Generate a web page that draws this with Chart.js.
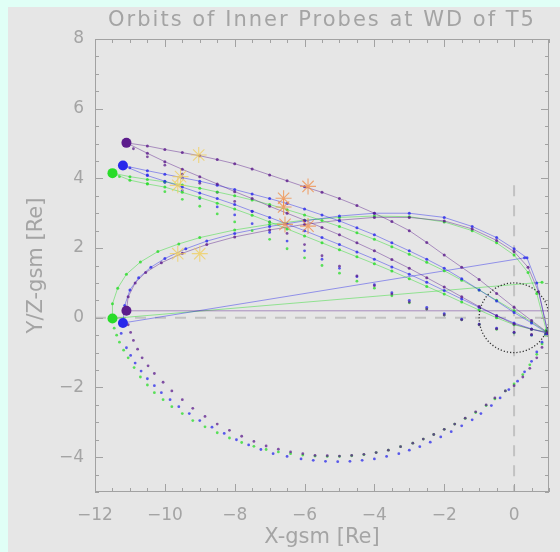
<!DOCTYPE html>
<html>
<head>
<meta charset="utf-8">
<script src="https://cdn.jsdelivr.net/npm/chart.js@4.4.0/dist/chart.umd.min.js"></script>
<style>
  html, body { margin: 0; padding: 0; background: #e0fff6; }
  canvas { display: block; }
</style>
</head>
<body>
<canvas id="orbitChart" width="560" height="552"></canvas>
<script>
// axis ranges and labels
var xRange = [-12, 1];
var yRange = [-5, 8];
var titleText = 'Orbits of Inner Probes at WD of T5';
var xTitle = 'X-gsm [Re]';
var yTitle = 'Y/Z-gsm [Re]';

// Y vs X legs (drawn with a line)
var purpleLegA = [[-11.1,5.02],[-10.5,4.93],[-10,4.83],[-9.5,4.74],[-9,4.65],[-8.5,4.54],[-8,4.42],[-7.5,4.27],[-7,4.1],[-6.5,3.93],[-6,3.76],[-5.5,3.6],[-5,3.42],[-4.5,3.22],[-4,3.0],[-3.5,2.76],[-3,2.5],[-2.5,2.16],[-2,1.8],[-1.5,1.45],[-1,1.1],[-0.5,0.7],[0,0.3],[0.5,-0.08],[0.97,-0.43]];
var purpleLegB = [[-11.1,5.02],[-10.5,4.72],[-10,4.48],[-9.5,4.26],[-9,4.05],[-8.5,3.84],[-8,3.62],[-7.5,3.42],[-7,3.2],[-6.5,3.0],[-6,2.8],[-5.5,2.59],[-5,2.38],[-4.5,2.15],[-4,1.92],[-3.5,1.67],[-3,1.42],[-2.5,1.15],[-2,0.88],[-1.5,0.6],[-1,0.32],[-0.5,0.06],[0,-0.18],[0.5,-0.33],[0.97,-0.43]];
var blueLegA = [[-11.2,4.37],[-10.5,4.22],[-10,4.12],[-9.5,4.02],[-9,3.92],[-8.5,3.8],[-8,3.68],[-7.5,3.55],[-7,3.42],[-6.5,3.28],[-6,3.12],[-5.5,2.95],[-5,2.78],[-4.5,2.58],[-4,2.38],[-3.5,2.15],[-3,1.92],[-2.5,1.68],[-2,1.42],[-1.5,1.12],[-1,0.8],[-0.5,0.48],[0,0.15],[0.5,-0.15],[0.97,-0.45]];
var blueLegB = [[-11.2,4.37],[-10.5,4.08],[-10,3.92],[-9.5,3.75],[-9,3.58],[-8.5,3.42],[-8,3.25],[-7.5,3.06],[-7,2.88],[-6.5,2.69],[-6,2.5],[-5.5,2.3],[-5,2.1],[-4.5,1.89],[-4,1.68],[-3.5,1.46],[-3,1.25],[-2.5,1.02],[-2,0.78],[-1.5,0.54],[-1,0.3],[-0.5,0.06],[0,-0.15],[0.5,-0.32],[0.97,-0.45]];
var greenLegA = [[-11.5,4.15],[-11,4.05],[-10.5,3.97],[-10,3.9],[-9.5,3.81],[-9,3.72],[-8.5,3.61],[-8,3.5],[-7.5,3.38],[-7,3.25],[-6.5,3.1],[-6,2.95],[-5.5,2.79],[-5,2.62],[-4.5,2.44],[-4,2.25],[-3.5,2.04],[-3,1.82],[-2.5,1.59],[-2,1.35],[-1.5,1.08],[-1,0.8],[-0.5,0.5],[0,0.2],[0.5,-0.12],[0.92,-0.4]];
var greenLegB = [[-11.5,4.15],[-11,3.95],[-10.5,3.84],[-10,3.75],[-9.5,3.6],[-9,3.45],[-8.5,3.29],[-8,3.12],[-7.5,2.94],[-7,2.75],[-6.5,2.55],[-6,2.35],[-5.5,2.15],[-5,1.95],[-4.5,1.75],[-4,1.55],[-3.5,1.34],[-3,1.12],[-2.5,0.9],[-2,0.68],[-1.5,0.45],[-1,0.22],[-0.5,0.0],[0,-0.2],[0.5,-0.33],[0.92,-0.4]];

// Y vs X legs (dots only)
var purpleLegC = [[-10.9,4.85],[-10.5,4.62],[-10,4.38],[-9.5,4.12],[-9,3.86],[-8.5,3.6],[-8,3.34],[-7.5,3.05],[-7,2.75],[-6.5,2.42],[-6,2.1],[-5.5,1.78],[-5,1.48],[-4.5,1.2],[-4,0.92],[-3.5,0.68],[-3,0.45],[-2.5,0.25],[-2,0.08],[-1.5,-0.06],[-1,-0.2],[-0.5,-0.32],[0,-0.42],[0.5,-0.48]];
var blueLegC = [[-11,4.3],[-10.5,4.1],[-10,3.88],[-9.5,3.65],[-9,3.42],[-8.5,3.18],[-8,2.95],[-7.5,2.7],[-7,2.45],[-6.5,2.2],[-6,1.92],[-5.5,1.68],[-5,1.42],[-4.5,1.18],[-4,0.95],[-3.5,0.72],[-3,0.5],[-2.5,0.3],[-2,0.12],[-1.5,-0.04],[-1,-0.18],[-0.5,-0.3],[0,-0.42],[0.5,-0.5],[0.9,-0.48]];
var greenLegC = [[-11.3,4.05],[-10.5,3.85],[-10,3.62],[-9.5,3.4],[-9,3.2],[-8.5,2.98],[-8,2.75],[-7.5,2.5],[-7,2.25],[-6.5,1.98],[-6,1.72],[-5.5,1.5],[-5,1.28],[-4.5,1.05],[-4,0.85],[-3.5,0.63],[-3,0.43],[-2.5,0.25],[-2,0.08],[-1.5,-0.06],[-1,-0.2],[-0.5,-0.33],[0,-0.44],[0.5,-0.5],[0.9,-0.5]];

// Z vs X, upper half (line) and lower half (dots)
var purpleZUp = [[-11.1,0.2],[-11.05,0.6],[-10.85,1.0],[-10.55,1.3],[-10.1,1.58],[-9.5,1.85],[-8.8,2.1],[-8,2.32],[-7,2.52],[-6,2.68],[-5,2.8],[-4,2.88],[-3,2.88],[-2,2.78],[-1.2,2.55],[-0.5,2.22],[0,1.9],[0.4,1.45],[0.7,0.75],[0.97,-0.45]];
var blueZUp = [[-11.2,-0.15],[-11.15,0.35],[-11,0.8],[-10.75,1.15],[-10.4,1.45],[-10,1.7],[-9.4,1.98],[-8.8,2.2],[-8,2.42],[-7,2.62],[-6,2.78],[-5,2.92],[-4,3.0],[-3,3.0],[-2,2.88],[-1.2,2.62],[-0.5,2.3],[0,1.98],[0.37,1.72],[0.65,1.0],[0.97,-0.43]];
var greenZUp = [[-11.5,-0.02],[-11.5,0.4],[-11.35,0.85],[-11.1,1.25],[-10.7,1.6],[-10.2,1.9],[-9.6,2.12],[-9,2.3],[-8,2.52],[-7,2.68],[-6,2.8],[-5,2.88],[-4,2.92],[-3,2.9],[-2,2.75],[-1.2,2.5],[-0.5,2.15],[0,1.8],[0.4,1.3],[0.65,0.7],[0.92,-0.35]];
var purpleZLow = [[-11.05,-0.2],[-10.98,-0.42],[-10.9,-0.65],[-10.78,-0.9],[-10.65,-1.15],[-10.48,-1.38],[-10.3,-1.6],[-10.05,-1.85],[-9.8,-2.1],[-9.5,-2.35],[-9.2,-2.6],[-8.85,-2.83],[-8.5,-3.05],[-8.15,-3.23],[-7.8,-3.4],[-7.45,-3.55],[-7.1,-3.68],[-6.75,-3.77],[-6.4,-3.85],[-6.05,-3.9],[-5.7,-3.95],[-5.35,-3.96],[-5,-3.97],[-4.65,-3.95],[-4.3,-3.92],[-3.95,-3.87],[-3.6,-3.8],[-3.25,-3.7],[-2.9,-3.6],[-2.6,-3.48],[-2.3,-3.35],[-2,-3.2],[-1.7,-3.05],[-1.4,-2.88],[-1.1,-2.7],[-0.8,-2.5],[-0.55,-2.3],[-0.25,-2.1],[0,-1.95],[0.25,-1.7],[0.45,-1.45],[0.65,-1.15],[0.8,-0.85],[0.97,-0.5]];
var blueZLow = [[-11.25,-0.45],[-11.1,-0.86],[-10.98,-1.08],[-10.85,-1.3],[-10.68,-1.53],[-10.5,-1.75],[-10.3,-1.95],[-10.1,-2.15],[-9.85,-2.35],[-9.6,-2.55],[-9.3,-2.75],[-9,-2.95],[-8.65,-3.14],[-8.3,-3.32],[-7.95,-3.5],[-7.6,-3.65],[-7.25,-3.78],[-6.9,-3.9],[-6.5,-3.98],[-6.1,-4.05],[-5.75,-4.09],[-5.4,-4.12],[-5.05,-4.13],[-4.7,-4.12],[-4.35,-4.09],[-4,-4.05],[-3.65,-3.98],[-3.3,-3.9],[-3,-3.8],[-2.7,-3.7],[-2.4,-3.57],[-2.1,-3.42],[-1.8,-3.27],[-1.5,-3.1],[-1.2,-2.93],[-0.95,-2.75],[-0.65,-2.52],[-0.4,-2.3],[-0.15,-2.06],[0.1,-1.82],[0.3,-1.55],[0.5,-1.25],[0.65,-0.98],[0.8,-0.7],[0.97,-0.45]];
var greenZLow = [[-11.45,-0.3],[-11.38,-0.5],[-11.3,-0.7],[-11.18,-0.93],[-11.05,-1.15],[-10.88,-1.43],[-10.7,-1.7],[-10.5,-1.93],[-10.3,-2.15],[-10.05,-2.35],[-9.8,-2.55],[-9.5,-2.75],[-9.2,-2.95],[-8.85,-3.13],[-8.5,-3.3],[-8.15,-3.45],[-7.8,-3.58],[-7.45,-3.69],[-7.1,-3.78],[-6.75,-3.85],[-6.4,-3.9],[-6.05,-3.94],[-5.7,-3.97],[-5.35,-3.98],[-5,-3.98],[-4.65,-3.96],[-4.3,-3.93],[-3.95,-3.87],[-3.6,-3.8],[-3.25,-3.7],[-2.9,-3.6],[-2.6,-3.48],[-2.3,-3.35],[-2,-3.2],[-1.7,-3.05],[-1.4,-2.89],[-1.1,-2.72],[-0.8,-2.52],[-0.55,-2.33],[-0.25,-2.1],[0,-1.9],[0.25,-1.63],[0.45,-1.35],[0.65,-1.05],[0.8,-0.75],[0.95,-0.5]];

// straight jumps from the Z apogee points
var purpleJump = [[-11.1,0.2],[1,0.2]];
var blueJump = [[-11.2,-0.15],[0.3,1.72]];
var greenJump = [[-11.5,-0.02],[0.8,1.02]];

// big start markers (Y and Z at apogee)
var purpleStart = [[-11.1,5.02],[-11.1,0.2]];
var blueStart = [[-11.2,4.37],[-11.2,-0.15]];
var greenStart = [[-11.5,4.15],[-11.5,-0.02]];

// asterisk markers
var yellowStars = [[-9.03,4.67],[-9.55,4.05],[-9.63,3.8],[-9.63,1.84],[-9.0,1.84]];
var orangeStars = [[-5.9,3.77],[-6.6,3.43],[-6.6,3.18],[-6.56,2.68],[-5.9,2.63]];

// reference lines
var zeroLineH = [[-12,0],[1,0]];
var zeroLineV = [[0,3.8],[0,-5]];

var PURPLE = '92,28,140';
var BLUE = '40,40,235';
var GREEN = '40,220,40';
var FONT = '"DejaVu Sans ExtraLight", "DejaVu Sans"';
var TEXT = '#a4a4a4';

function pts(a) {
  return a.map(function (p) { return { x: p[0], y: p[1] }; });
}

function lineSet(a, rgb) {
  return {
    data: pts(a), showLine: true, borderWidth: 1,
    borderColor: 'rgba(' + rgb + ',0.45)',
    pointRadius: 1.5, pointBorderWidth: 0,
    pointBackgroundColor: 'rgba(' + rgb + ',0.8)'
  };
}

function dotSet(a, rgb) {
  return {
    data: pts(a), showLine: false,
    pointRadius: 1.4, pointBorderWidth: 0,
    pointBackgroundColor: 'rgba(' + rgb + ',0.75)'
  };
}

function bigSet(a, rgb) {
  return {
    data: pts(a), showLine: false,
    pointRadius: 5, pointBorderWidth: 0,
    pointBackgroundColor: 'rgb(' + rgb + ')'
  };
}

function starSet(a, color) {
  return {
    data: pts(a), showLine: false, pointStyle: 'star',
    pointRadius: 8, pointBorderWidth: 1.1,
    pointBorderColor: color, pointBackgroundColor: color
  };
}

function refSet(a, dash) {
  return {
    data: pts(a), showLine: true, borderWidth: 2,
    borderColor: '#c2c2c2', borderDash: dash, pointRadius: 0
  };
}

var earthPlugin = {
  id: 'earth',
  beforeDraw: function (chart) {
    var c = chart.ctx;
    c.save();
    c.fillStyle = '#e0fff6';
    c.fillRect(0, 0, chart.width, chart.height);
    c.fillStyle = '#e6e6e6';
    c.fillRect(8, 7, chart.width - 8, chart.height - 7);
    c.restore();
  },
  afterDatasetsDraw: function (chart) {
    var c = chart.ctx, a = chart.chartArea, x = chart.scales.x, y = chart.scales.y;
    var cx = x.getPixelForValue(0), cy = y.getPixelForValue(0);
    c.save();
    c.beginPath();
    c.rect(a.left, a.top, a.right - a.left, a.bottom - a.top);
    c.clip();
    c.beginPath();
    c.setLineDash([1.2, 2]);
    c.lineWidth = 1.3;
    c.strokeStyle = '#333';
    c.ellipse(cx, cy, x.getPixelForValue(1) - cx, cy - y.getPixelForValue(1), 0, 0, Math.PI * 2);
    c.stroke();
    c.restore();
  },
  afterDraw: function (chart) {
    var c = chart.ctx, a = chart.chartArea, x = chart.scales.x, y = chart.scales.y;
    c.save();
    c.strokeStyle = '#a2a2a2';
    c.lineWidth = 1;
    c.strokeRect(a.left + 0.5, a.top + 0.5, a.right - a.left - 1, a.bottom - a.top - 1);
    c.beginPath();
    var v, len, p;
    for (v = xRange[0]; v <= xRange[1] + 1e-9; v += 0.5) {
      len = v % 2 === 0 ? 8 : 4;
      p = Math.round(x.getPixelForValue(v)) + 0.5;
      c.moveTo(p, a.bottom); c.lineTo(p, a.bottom - len);
      c.moveTo(p, a.top); c.lineTo(p, a.top + len);
    }
    for (v = yRange[0]; v <= yRange[1] + 1e-9; v += 0.5) {
      len = v % 2 === 0 ? 8 : 4;
      p = Math.round(y.getPixelForValue(v)) + 0.5;
      c.moveTo(a.left, p); c.lineTo(a.left + len, p);
      c.moveTo(a.right, p); c.lineTo(a.right - len, p);
    }
    c.stroke();
    c.font = '21px ' + FONT;
    c.fillStyle = TEXT;
    c.textAlign = 'center';
    c.textBaseline = 'middle';
    c.letterSpacing = '2px';
    c.fillText(titleText, (a.left + a.right) / 2, 21);
    c.restore();
  }
};

function fmt(v) {
  return v < 0 ? '\u2212' + Math.abs(v) : String(v);
}

var datasets = [
  starSet(yellowStars, 'rgba(240,205,90,0.75)'),
  starSet(orangeStars, 'rgba(240,140,70,0.75)'),
  bigSet(purpleStart, PURPLE),
  bigSet(blueStart, BLUE),
  bigSet(greenStart, GREEN),
  lineSet(purpleLegA, PURPLE),
  lineSet(purpleLegB, PURPLE),
  lineSet(blueLegA, BLUE),
  lineSet(blueLegB, BLUE),
  lineSet(greenLegA, GREEN),
  lineSet(greenLegB, GREEN),
  dotSet(purpleLegC, PURPLE),
  dotSet(blueLegC, BLUE),
  dotSet(greenLegC, GREEN),
  lineSet(purpleZUp, PURPLE),
  lineSet(blueZUp, BLUE),
  lineSet(greenZUp, GREEN),
  dotSet(purpleZLow, PURPLE),
  dotSet(blueZLow, BLUE),
  dotSet(greenZLow, GREEN),
  lineSet(purpleJump, PURPLE),
  lineSet(blueJump, BLUE),
  lineSet(greenJump, GREEN),
  refSet(zeroLineH, [11, 9]),
  refSet(zeroLineV, [11, 9])
];

var ctx = document.getElementById('orbitChart').getContext('2d');
var orbitChart = new Chart(ctx, {
  type: 'scatter',
  data: { datasets: datasets },
  options: {
    responsive: false,
    animation: false,
    layout: { padding: { top: 39, right: 11, left: 0, bottom: 0 } },
    plugins: {
      legend: { display: false },
      tooltip: { enabled: false }
    },
    scales: {
      x: {
        type: 'linear', min: xRange[0], max: xRange[1],
        afterFit: function (s) { s.height = 60; },
        grid: { display: false, drawTicks: false },
        border: { display: false },
        ticks: {
          stepSize: 2, includeBounds: false, padding: 13, maxRotation: 0,
          color: TEXT, font: { family: FONT, size: 17 },
          callback: fmt
        },
        title: {
          display: true, text: xTitle, color: TEXT,
          font: { family: FONT, size: 21 },
          padding: { top: 0, bottom: 2 }
        }
      },
      y: {
        type: 'linear', min: yRange[0], max: yRange[1],
        afterFit: function (s) { s.width = 95; },
        grid: { display: false, drawTicks: false },
        border: { display: false },
        ticks: {
          stepSize: 2, includeBounds: false, padding: 11,
          color: TEXT, font: { family: FONT, size: 17 },
          callback: fmt
        },
        title: {
          display: true, text: yTitle, color: TEXT,
          font: { family: FONT, size: 21 },
          padding: { top: 24, bottom: 0 }
        }
      }
    }
  },
  plugins: [earthPlugin]
});
</script>
</body>
</html>
